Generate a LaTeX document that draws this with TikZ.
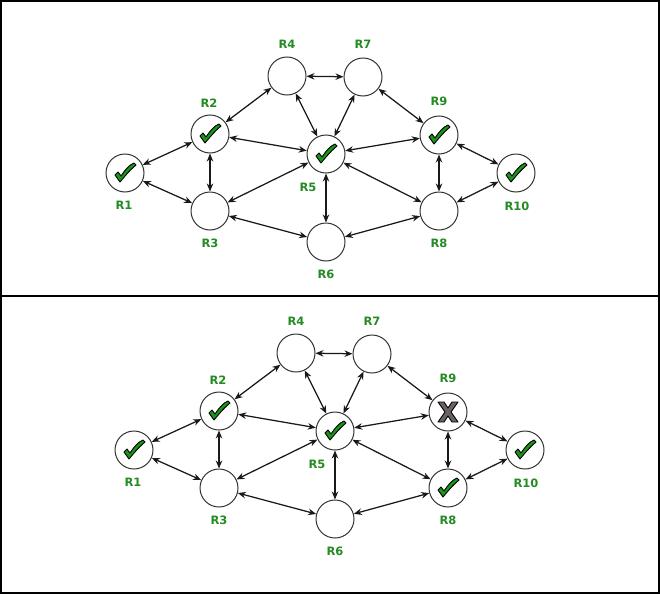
\documentclass[tikz,border=0pt]{standalone}
\usepackage{fontspec}
\setmainfont{DejaVu Sans}
\usepackage{tikz}
\usetikzlibrary{arrows.meta}
\definecolor{rgreen}{RGB}{34,139,34}
\definecolor{cgreen}{RGB}{28,148,28}
\definecolor{xgray}{RGB}{105,98,98}
\tikzset{
  router/.style={circle, draw=black!80, fill=white, line width=1pt, minimum size=38pt, inner sep=0pt},
  lbl/.style={font=\fontsize{11.5}{13}\selectfont\bfseries, text=rgreen, inner sep=0pt},
  chk/.pic={\filldraw[-, fill=cgreen, draw=black, line width=0.9pt, line join=round]
    (-10,2) -- (-7,-1) -- (-4,3) .. controls (0,-3) and (4,-8) .. (9,-10)
    -- (11,-8) .. controls (4,-2) and (0,3) .. (-5,9) -- cycle;},
  cross/.pic={\filldraw[-, fill=xgray, draw=black, line width=0.9pt, line join=round]
    (-10,-10) -- (-4,-10) -- (0,-4) -- (4,-10) -- (10,-10) -- (3,0) -- (10,10)
    -- (4,10) -- (0,4) -- (-4,10) -- (-10,10) -- (-3,0) -- cycle;}
}
\begin{document}
\begin{tikzpicture}[x=1pt, y=-1pt, <->, >={Stealth[length=8pt,width=6.5pt]}, line width=1.25pt, draw=black!90]
\useasboundingbox (0,0) rectangle (660,594);
\draw[-, line width=2pt, black] (1,1) rectangle (659,593);
\draw[-, line width=2pt, black] (0,296) -- (660,296);

% same network twice: a = before, b = after R9 fails
\foreach \p/\dx/\dy in {a/0/0, b/9/277} {
  \begin{scope}[shift={(\dx,\dy)}]
  \node[router] (\p1) at (125,173) {};
  \node[router] (\p2) at (210,134) {};
  \node[router] (\p3) at (210,211) {};
  \node[router] (\p4) at (287,76) {};
  \node[router] (\p5) at (326,154) {};
  \node[router] (\p6) at (326,242) {};
  \node[router] (\p7) at (363,77) {};
  \node[router] (\p8) at (439,211) {};
  \node[router] (\p9) at (439,135) {};
  \node[router] (\p10) at (516,173) {};

  \node[lbl] (\p l1) at (124,205) {R1};
  \node[lbl] (\p l2) at (209,103) {R2};
  \node[lbl] (\p l3) at (210,243) {R3};
  \node[lbl] (\p l4) at (287,44) {R4};
  \node[lbl] (\p l5) at (308,187) {R5};
  \node[lbl] (\p l6) at (326,274) {R6};
  \node[lbl] (\p l7) at (363,44) {R7};
  \node[lbl] (\p l8) at (439,243) {R8};
  \node[lbl] (\p l9) at (439,101) {R9};
  \node[lbl] (\p l10) at (517,206) {R10};

  \foreach \u/\v in {1/2,1/3,2/3,2/4,2/5,3/5,3/6,4/7,4/5,7/5,7/9,5/9,5/6,5/8,6/8,9/8,9/10,8/10}
    \path (\p\u) edge (\p\v);
  \end{scope}
}

\foreach \n in {a1,a2,a5,a9,a10,b1,b2,b5,b8,b10}
  \pic at (\n) {chk};
\pic at (b9) {cross};
\end{tikzpicture}
\end{document}
